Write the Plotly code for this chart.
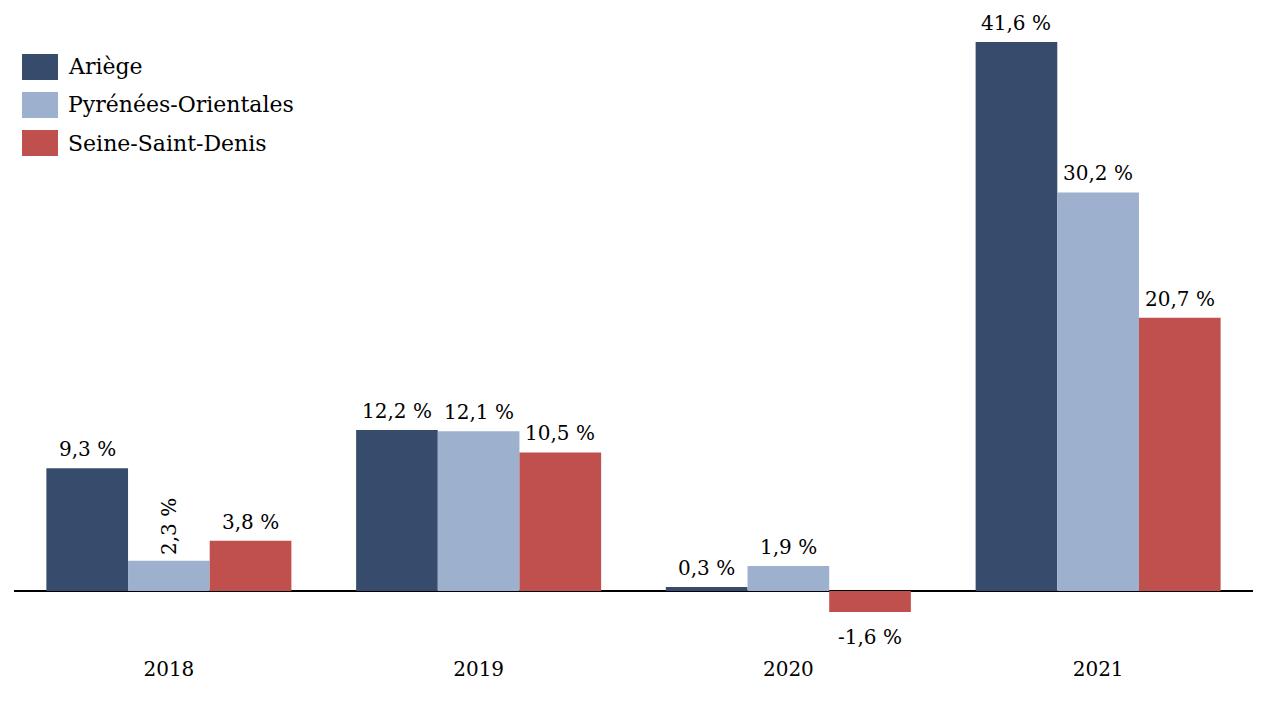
import plotly.graph_objects as go

years = ["2018", "2019", "2020", "2021"]
series_names = ["Ariège", "Pyrénées-Orientales", "Seine-Saint-Denis"]
ariege = [9.3, 12.2, 0.3, 41.6]
pyrenees = [2.3, 12.1, 1.9, 30.2]
seine = [3.8, 10.5, -1.6, 20.7]
colors = ["#374C6C", "#9DB0CE", "#C0504D"]

W, H = 1267, 701
OFF = 8  # page offset of the figure in the screenshot
ML, MR, MT, MB = 6, 22, 12, 54
FONT = "DejaVu Serif"
FS = 20
BARGAP = 0.209

def fmt(v):
    return f"{v:.1f}".replace(".", ",") + " %"

fig = go.Figure()
values = [ariege, pyrenees, seine]
for name, vals, col in zip(series_names, values, colors):
    fig.add_trace(go.Bar(
        x=years, y=vals, name=name, marker=dict(color=col, line=dict(width=0)),
        showlegend=False,
    ))

# value labels
bw = (1 - BARGAP) / len(series_names)
for si, vals in enumerate(values):
    off = (si - (len(series_names) - 1) / 2) * bw
    for ci, v in enumerate(vals):
        if si == 1 and ci == 0:
            fig.add_annotation(x=ci + off, y=v, text=fmt(v), textangle=-90,
                               showarrow=False, yanchor="bottom", xanchor="center", yshift=4,
                               font=dict(family=FONT, size=FS, color="black"))
            continue
        if v >= 0:
            fig.add_annotation(x=ci + off, y=v, text=fmt(v), showarrow=False,
                               yanchor="bottom", xanchor="center", yshift=5,
                               font=dict(family=FONT, size=FS, color="black"))
        else:
            fig.add_annotation(x=ci + off, y=v, text=fmt(v), showarrow=False,
                               yanchor="top", xanchor="center", yshift=-11,
                               font=dict(family=FONT, size=FS, color="black"))

# custom legend
pw = W - ML - MR
ph = H - MT - MB
def px(x):
    return (x - OFF - ML) / pw
def py(y):
    return (H - MB - (y - OFF)) / ph

for i, (name, col) in enumerate(zip(series_names, colors)):
    cy = 67 + 38 * i
    fig.add_shape(type="rect", xref="paper", yref="paper",
                  x0=px(22), x1=px(58), y0=py(cy + 13), y1=py(cy - 13),
                  fillcolor=col, line=dict(width=0), layer="above")
    fig.add_annotation(xref="paper", yref="paper", x=px(66), y=py(cy), text=name,
                       showarrow=False, xanchor="left", yanchor="middle",
                       font=dict(family=FONT, size=22, color="black"))

fig.update_layout(
    width=W, height=H,
    margin=dict(l=ML, r=MR, t=MT, b=MB),
    barmode="group", bargap=BARGAP, bargroupgap=0,
    plot_bgcolor="white", paper_bgcolor="white",
    font=dict(family=FONT, size=FS, color="black"),
    showlegend=False,
)
fig.update_xaxes(type="category", range=[-0.5, len(years) - 0.5], showline=False,
                 showgrid=False, ticks="",
                 tickfont=dict(family=FONT, size=FS, color="black"))
fig.update_yaxes(range=[-4.85, 43.26], showgrid=False, showticklabels=False,
                 zeroline=True, zerolinecolor="black", zerolinewidth=2, showline=False)

fig.write_html("out.html")
